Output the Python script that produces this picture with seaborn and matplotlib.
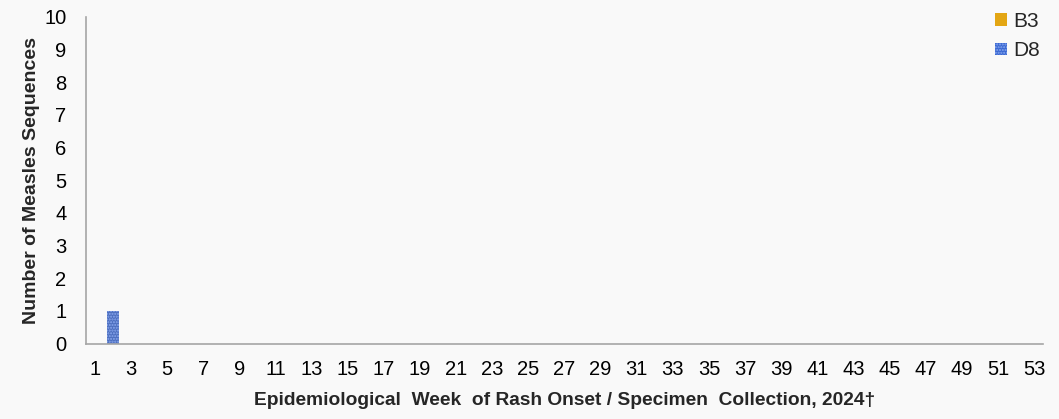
import matplotlib
matplotlib.use("Agg")
import matplotlib.pyplot as plt
from matplotlib.patches import Patch
import seaborn as sns
import pandas as pd

# settimane epidemiologiche 2024 e conteggi per genotipo
weeks = list(range(1, 54))
b3_counts = [0] * 53
d8_counts = [0] * 53
d8_counts[1] = 1  # settimana 2

tick_labels = [str(w) if w % 2 == 1 else "" for w in weeks]

df = pd.DataFrame({"week": weeks, "B3": b3_counts, "D8": d8_counts})

sns.set_theme(style="white")
plt.rcParams["font.family"] = ["Liberation Sans", "DejaVu Sans"]
plt.rcParams["hatch.linewidth"] = 1.0

fig, ax = plt.subplots(figsize=(10.59, 4.19), dpi=100)
fig.patch.set_facecolor("#f9f9f9")
ax.set_facecolor("#f9f9f9")

d8_color = "#3a68d2"
d8_hatch = "#8aa8ee"
b3_color = "#e3a614"

# barre impilate: D8 sotto, B3 sopra
sns.barplot(data=df, x="week", y="D8", color=d8_color, width=0.65,
            ax=ax, hatch="......", edgecolor=d8_hatch, linewidth=0)
sns.barplot(data=df, x="week", y="B3", bottom=df["D8"], color=b3_color,
            width=0.65, ax=ax, linewidth=0)

ax.set_ylim(0, 10)
ax.set_yticks(range(0, 11))
ax.set_xlim(-0.5, 52.5)
ax.set_xticks(range(53))
ax.set_xticklabels(tick_labels)
ax.tick_params(axis="both", labelsize=14.5, length=0, colors="black")
ax.tick_params(axis="x", pad=12)
ax.tick_params(axis="y", pad=14)

ax.set_xlabel("Epidemiological  Week  of Rash Onset / Specimen  Collection, 2024†",
              fontsize=13.8, fontweight="bold", labelpad=9)
ax.set_ylabel("Number of Measles Sequences", fontsize=14, fontweight="bold",
              labelpad=3)

for side in ["top", "right"]:
    ax.spines[side].set_visible(False)
for side in ["left", "bottom"]:
    ax.spines[side].set_color("#a6a6a6")
    ax.spines[side].set_linewidth(1.2)

handles = [Patch(facecolor=b3_color, edgecolor="none", label="B3"),
           Patch(facecolor=d8_color, edgecolor=d8_hatch, hatch="......",
                 linewidth=0, label="D8")]
ax.legend(handles=handles, loc="upper right", bbox_to_anchor=(1.016, 1.072),
          frameon=False, fontsize=15, handlelength=0.55, handleheight=0.55,
          handletextpad=0.3, labelspacing=0.5)

plt.subplots_adjust(left=0.081, right=0.985, top=0.96, bottom=0.18)
plt.savefig("out.png", dpi=100, facecolor=fig.get_facecolor())
